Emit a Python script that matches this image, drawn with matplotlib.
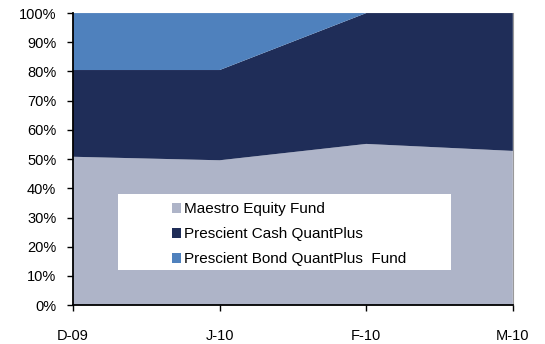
import matplotlib
matplotlib.use('Agg')
import matplotlib.pyplot as plt
from matplotlib.patches import Rectangle
import numpy as np

months = ['D-09', 'J-10', 'F-10', 'M-10']
maestro_equity = [50.8, 49.6, 55.2, 52.8]
cash_quantplus = [29.7, 30.9, 44.8, 47.2]
bond_quantplus = [19.5, 19.5, 0.0, 0.0]

labels = ['Maestro Equity Fund', 'Prescient Cash QuantPlus', 'Prescient Bond QuantPlus  Fund']
colors = ['#aeb4c8', '#1f2d58', '#4f81bd']

plt.rcParams['font.family'] = ['Liberation Sans', 'DejaVu Sans']

fig = plt.figure(figsize=(5.45, 3.44), dpi=100)
ax = fig.add_axes([0.134, 0.113, 0.807, 0.849])

x = np.arange(len(months))
polys = ax.stackplot(x, maestro_equity, cash_quantplus, bond_quantplus,
                     colors=colors, labels=labels, linewidth=0)

ax.set_xlim(0, len(months) - 1)
ax.set_ylim(0, 100)
ax.set_yticks(np.arange(0, 101, 10))
ax.set_yticklabels(['{}%'.format(v) for v in range(0, 101, 10)], fontsize=10.5)
ax.set_xticks(x)
ax.set_xticklabels(months, fontsize=10.5)
ax.tick_params(axis='x', direction='out', length=4, width=1, pad=13.5)
ax.tick_params(axis='y', direction='out', length=4, width=1, pad=8)

ax.spines['top'].set_visible(False)
ax.spines['right'].set_color('#999999')
ax.spines['right'].set_linewidth(0.8)
ax.spines['left'].set_linewidth(1.3)
ax.spines['bottom'].set_linewidth(1.3)

# white legend box
ax.add_patch(Rectangle((0.102, 0.12), 0.757, 0.26, transform=ax.transAxes,
                       facecolor='white', edgecolor='none', zorder=3))

leg = ax.legend(loc='upper left', bbox_to_anchor=(0.2245, 0.352),
                fontsize=11, frameon=False, handlelength=0.59, handleheight=0.59,
                handletextpad=0.2, borderaxespad=0, labelspacing=0.72, borderpad=0)
leg.set_zorder(4)

fig.savefig('out.png', dpi=100)
